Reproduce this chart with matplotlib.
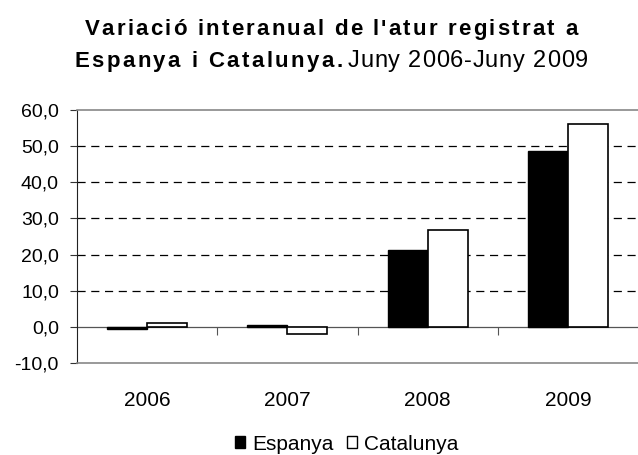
import numpy as np
import matplotlib.pyplot as plt
from matplotlib import font_manager
from matplotlib.ft2font import FT2Font
from matplotlib.patches import Patch

plt.rcParams['font.family'] = ['Liberation Sans', 'DejaVu Sans']

years = ['2006', '2007', '2008', '2009']
espanya = [-0.7, 0.4, 21.3, 48.7]
catalunya = [1.0, -2.0, 26.7, 56.2]
yticks = [-10, 0, 10, 20, 30, 40, 50, 60]
ytick_labels = ['-10,0', '0,0', '10,0', '20,0', '30,0', '40,0', '50,0', '60,0']

W, H = 638, 455
fig = plt.figure(figsize=(W / 100, H / 100), dpi=100)
ax = fig.add_axes([77 / W, 1 - 363 / H, 561 / W, 253 / H])

x = np.arange(len(years))
w = 0.285
ax.bar(x - w / 2, espanya, w, color='black', edgecolor='black', linewidth=1.0, zorder=3)
ax.bar(x + w / 2, catalunya, w, color='white', edgecolor='black', linewidth=1.2, zorder=3)

ax.set_xlim(-0.5, 3.5)
ax.set_ylim(-10, 60)
ax.set_yticks(yticks)
ax.set_yticklabels(ytick_labels, fontsize=14)
ax.set_xticks(x)
ax.set_xticklabels(years, fontsize=15)
ax.tick_params(axis='x', length=0, pad=20)
ax.tick_params(axis='y', length=5, width=0.8, color='#333333', pad=8)

for v in [10, 20, 30, 40, 50]:
    ax.axhline(v, color='black', linestyle=(0, (6.5, 4.5)), linewidth=0.9, zorder=1)

ax.spines['right'].set_visible(False)
ax.spines['top'].set_color('#888888')
ax.spines['bottom'].set_color('#888888')
ax.spines['left'].set_color('#222222')
ax.spines['top'].set_linewidth(1.2)
ax.spines['bottom'].set_linewidth(1.2)

# zero line with category separator ticks
sec = ax.secondary_xaxis(10 / 70)
sec.set_xticks([0.5, 1.5, 2.5])
sec.set_xticklabels([])
sec.tick_params(length=6, width=0.8, color='#555555', direction='out')
sec.spines['bottom'].set_color('#555555')
sec.spines['bottom'].set_linewidth(0.9)


def advances(s, size, weight):
    path = font_manager.findfont(font_manager.FontProperties(family='Liberation Sans', weight=weight))
    font = FT2Font(path)
    font.set_size(size, 100)
    out = []
    for c in s:
        g = font.load_char(ord(c))
        out.append(g.linearHoriAdvance / 65536)
    return out


def spaced(x0, y, s, size, weight, sp):
    # draw text letter by letter with extra spacing (pixel coords)
    adv = advances(s, size, weight)
    xc = x0
    for c, a in zip(s, adv):
        if c != ' ':
            fig.text(xc / W, 1 - y / H, c, fontsize=size, fontweight=weight, ha='left', va='baseline')
        xc += a + sp
    return xc - sp


def width(s, size, weight, sp):
    return sum(advances(s, size, weight)) + sp * (len(s) - 1)


# title
cx = 331
l1 = "Variació interanual de l'atur registrat a"
spaced(cx - width(l1, 16, 'bold', 2.2) / 2, 35, l1, 16, 'bold', 2.2)
b2 = "Espanya i Catalunya."
n2 = "Juny 2006-Juny 2009"
wb = width(b2, 16, 'bold', 2.4)
wn = width(n2, 17, 'normal', 0.8)
gap = 5
start = cx - (wb + gap + wn) / 2
spaced(start, 67, b2, 16, 'bold', 2.4)
spaced(start + wb + gap, 67, n2, 17, 'normal', 0.8)

handles = [Patch(facecolor='black', edgecolor='black', label='Espanya'),
           Patch(facecolor='white', edgecolor='black', label='Catalunya')]
fig.legend(handles=handles, loc='center left', bbox_to_anchor=(235 / W, 1 - 444 / H), ncol=2,
           frameon=False, fontsize=15, handlelength=0.5, handleheight=0.5, handletextpad=0.35,
           columnspacing=0.6, borderpad=0, borderaxespad=0)

fig.savefig('out.png', dpi=100)
